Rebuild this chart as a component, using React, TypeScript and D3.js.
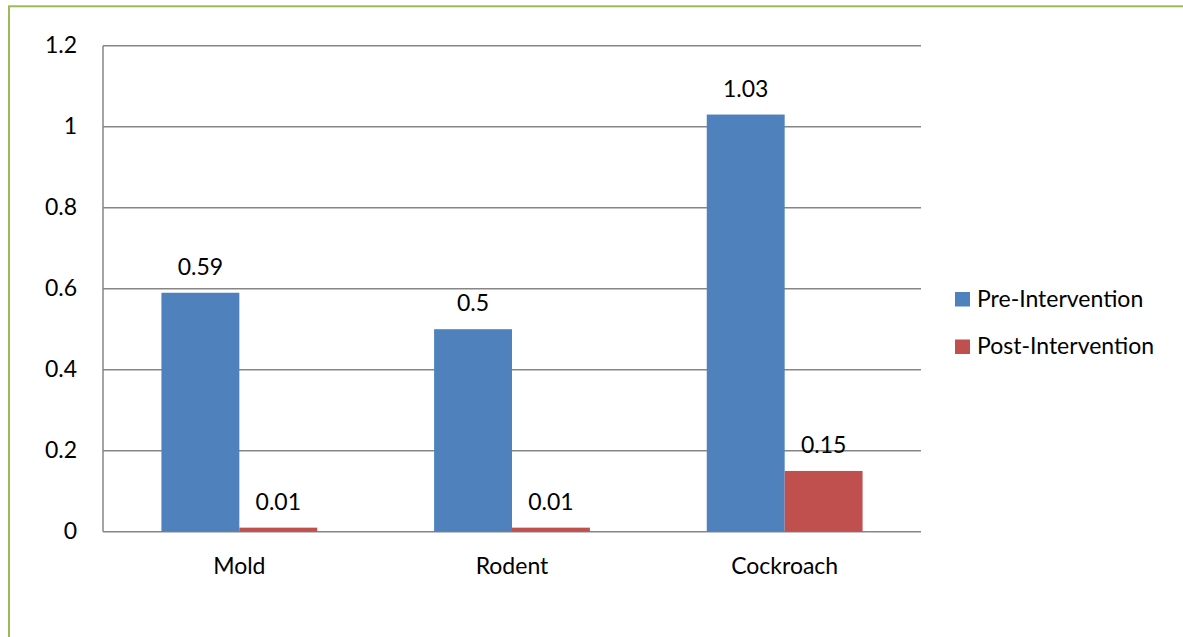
import React from "react";
import * as d3 from "d3";

const categories = ["Mold", "Rodent", "Cockroach"];
const seriesNames = ["Pre-Intervention", "Post-Intervention"];
const preValues = [0.59, 0.5, 1.03];
const postValues = [0.01, 0.01, 0.15];
const yTicks = [0, 0.2, 0.4, 0.6, 0.8, 1, 1.2];
const colors = ["#4f81bd", "#c0504d"];

const W = 1183;
const H = 637;
const plot = { left: 103, right: 921, top: 45.7, bottom: 531.7 };
const FONT = "Lato, 'Open Sans', sans-serif";
const FS = 23;

export default function App() {
  const x = d3
    .scaleBand<string>()
    .domain(categories)
    .range([plot.left, plot.right])
    .paddingInner(0)
    .paddingOuter(0);
  const y = d3.scaleLinear().domain([0, 1.2]).range([plot.bottom, plot.top]);
  const bw = x.bandwidth();
  // gap width 150%: two bars plus 1.5 bar widths per category
  const barW = bw / 3.5;
  const series = [preValues, postValues];
  const fmt = (v: number) => String(v);

  return (
    <svg
      width={W}
      height={H}
      style={{ position: "absolute", left: 0, top: 0, display: "block" }}
      fontFamily={FONT}
    >
      <rect x={0} y={0} width={W} height={H} fill="#fff" />
      <rect
        x={9}
        y={6.3}
        width={W + 20}
        height={H + 20}
        fill="none"
        stroke="#9bbb59"
        strokeWidth={2}
      />
      {/* gridlines */}
      {yTicks.map((t) => (
        <line
          key={"g" + t}
          x1={plot.left}
          x2={plot.right}
          y1={y(t)}
          y2={y(t)}
          stroke="#868686"
          strokeWidth={1.5}
        />
      ))}
      <line
        x1={plot.left}
        x2={plot.left}
        y1={plot.top}
        y2={plot.bottom}
        stroke="#868686"
        strokeWidth={1.5}
      />
      {/* y tick labels */}
      {yTicks.map((t) => (
        <text
          key={"t" + t}
          x={77}
          y={y(t) + 7.5}
          textAnchor="end"
          fontSize={FS}
          fill="#000"
        >
          {fmt(t)}
        </text>
      ))}
      {/* bars */}
      {categories.map((c, i) =>
        series.map((vals, s) => {
          const x0 = (x(c) as number) + bw / 2 - barW + s * barW;
          const v = vals[i];
          return (
            <g key={c + s}>
              <rect
                x={x0}
                y={y(v)}
                width={barW}
                height={plot.bottom - y(v)}
                fill={colors[s]}
              />
              <text
                x={x0 + barW / 2}
                y={y(v) - 18}
                textAnchor="middle"
                fontSize={FS}
                fill="#000"
              >
                {fmt(v)}
              </text>
            </g>
          );
        })
      )}
      {/* category labels */}
      {categories.map((c) => (
        <text
          key={"c" + c}
          x={(x(c) as number) + bw / 2}
          y={574}
          textAnchor="middle"
          fontSize={FS}
          fill="#000"
        >
          {c}
        </text>
      ))}
      {/* legend */}
      {seriesNames.map((n, s) => (
        <g key={n} transform={`translate(955, ${306.5 + s * 47.5})`}>
          <rect x={0} y={-14.5} width={15} height={14.5} fill={colors[s]} />
          <text x={22} y={0} fontSize={FS} fill="#000">
            {n}
          </text>
        </g>
      ))}
    </svg>
  );
}
